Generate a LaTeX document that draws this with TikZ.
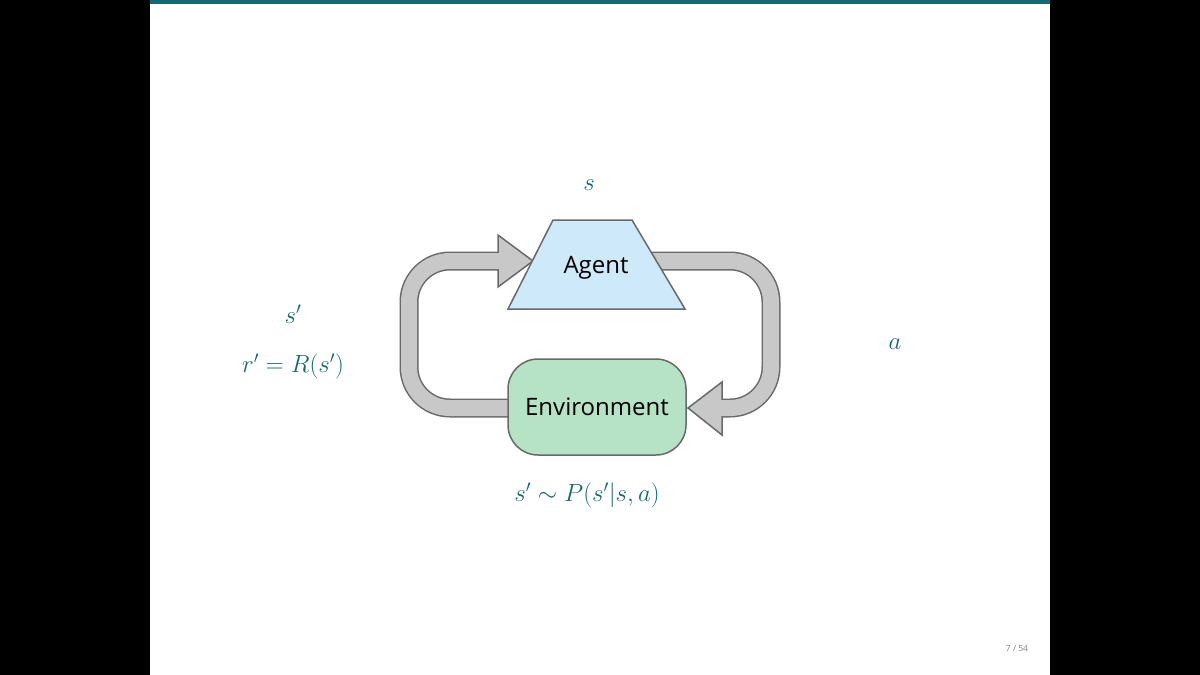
\documentclass[tikz,border=0pt]{standalone}
\usepackage{fontspec}
\setsansfont{Open Sans}
\usetikzlibrary{positioning}
\definecolor{slideteal}{RGB}{23,104,116}
\definecolor{agentblue}{RGB}{206,233,250}
\definecolor{envgreen}{RGB}{182,226,197}
\definecolor{arrowgray}{RGB}{200,200,200}
\definecolor{edgegray}{RGB}{105,105,105}

\begin{document}
\begin{tikzpicture}[x=1pt,y=-1pt,
  shaft out/.style={line width=19pt,draw=edgegray},
  shaft in/.style={line width=16pt,draw=arrowgray},
  head/.style={fill=arrowgray,draw=edgegray,line width=1.5pt,line join=miter},
  box/.style={draw=edgegray,line width=1.5pt,font=\sffamily\fontsize{24}{28}\selectfont},
  lbl/.style={text=slideteal,font=\fontsize{27}{32}\selectfont}]
  \useasboundingbox (0,0) rectangle (1200,675);
  \fill[black] (0,0) rectangle (150,675);
  \fill[black] (1050,0) rectangle (1200,675);
  \fill[slideteal] (150,0) rectangle (1050,4);

  % loop arrows
  \coordinate (la) at (510,408);
  \coordinate (lb) at (500,261);
  \coordinate (ra) at (650,261);
  \coordinate (rb) at (720,408);
  \draw[shaft out] (la) -- (450,408) arc (90:180:41) -- (409,302) arc (180:270:41) -- (lb);
  \draw[shaft out] (ra) -- (730,261) arc (-90:0:41) -- (771,367) arc (0:90:41) -- (rb);
  \draw[head] (498,235) -- (533,261) -- (498,287) -- cycle;
  \draw[head] (722,382) -- (688,408) -- (722,435) -- cycle;
  \draw[shaft in] (la) -- (450,408) arc (90:180:41) -- (409,302) arc (180:270:41) -- (499.5,261);
  \draw[shaft in] (ra) -- (730,261) arc (-90:0:41) -- (771,367) arc (0:90:41) -- (720.5,408);

  % agent and environment
  \draw[box,fill=agentblue] (553,220) -- (632,220) -- (685,309) -- (508,309) -- cycle;
  \node[font=\sffamily\fontsize{24}{28}\selectfont] (agent) at (596,268) {Agent};
  \node[box,fill=envgreen,rounded corners=30pt,minimum width=178pt,minimum height=96pt] (env) at (597,407) {Environment};

  % labels
  \node[lbl] (state) at (589,185) {$s$};
  \node[lbl] (next) at (293,314) {$s'$};
  \node[lbl] (reward) at (293,366) {$r'=R(s')$};
  \node[lbl] (action) at (895,344) {$a$};
  \node[lbl] (trans) at (587,495) {$s'\sim P(s'|s,a)$};
  \node[text=gray,font=\sffamily\fontsize{8.5}{10}\selectfont] (page) at (1017,648) {7 / 54};
\end{tikzpicture}
\end{document}
